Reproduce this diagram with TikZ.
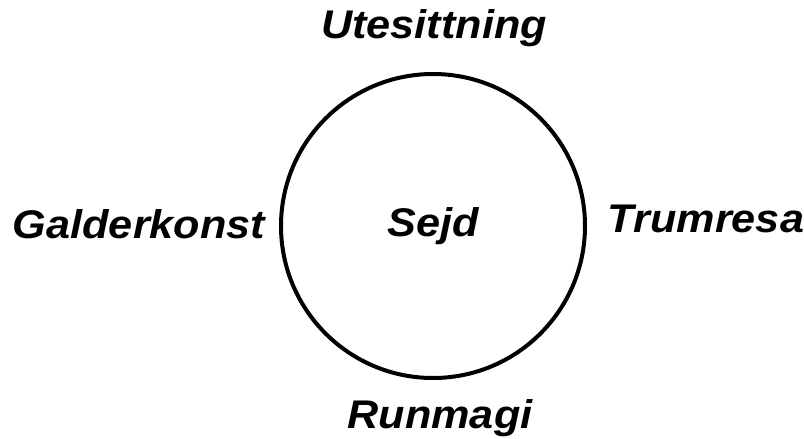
\documentclass[tikz,border=0pt]{standalone}
\usepackage{fontspec}
\newfontfamily\lblfont{Liberation Sans}[FakeStretch=1.08]
\usetikzlibrary{positioning}

\begin{document}
\begin{tikzpicture}[
    x=0.75pt, y=0.75pt,
    ring/.style={circle, draw, line width=3pt, minimum size=228pt, inner sep=0pt},
    lbl/.style={inner sep=0pt, anchor=base, font=\lblfont\bfseries\itshape\fontsize{30}{36}\selectfont}
]
\useasboundingbox (0,0) rectangle (804,-439);

% Cirkel
\node[ring] (ring) at (433,-226) {};

% Texter
\node[lbl] (sejd) at (433,-236) {Sejd};
\node[lbl] (utes) at (434,-38) {Utesittning};
\node[lbl] (gald) at (139,-238) {Galderkonst};
\node[lbl] (trum) at (706,-232) {Trumresa};
\node[lbl] (runm) at (440,-428) {Runmagi};

\end{tikzpicture}
\end{document}
